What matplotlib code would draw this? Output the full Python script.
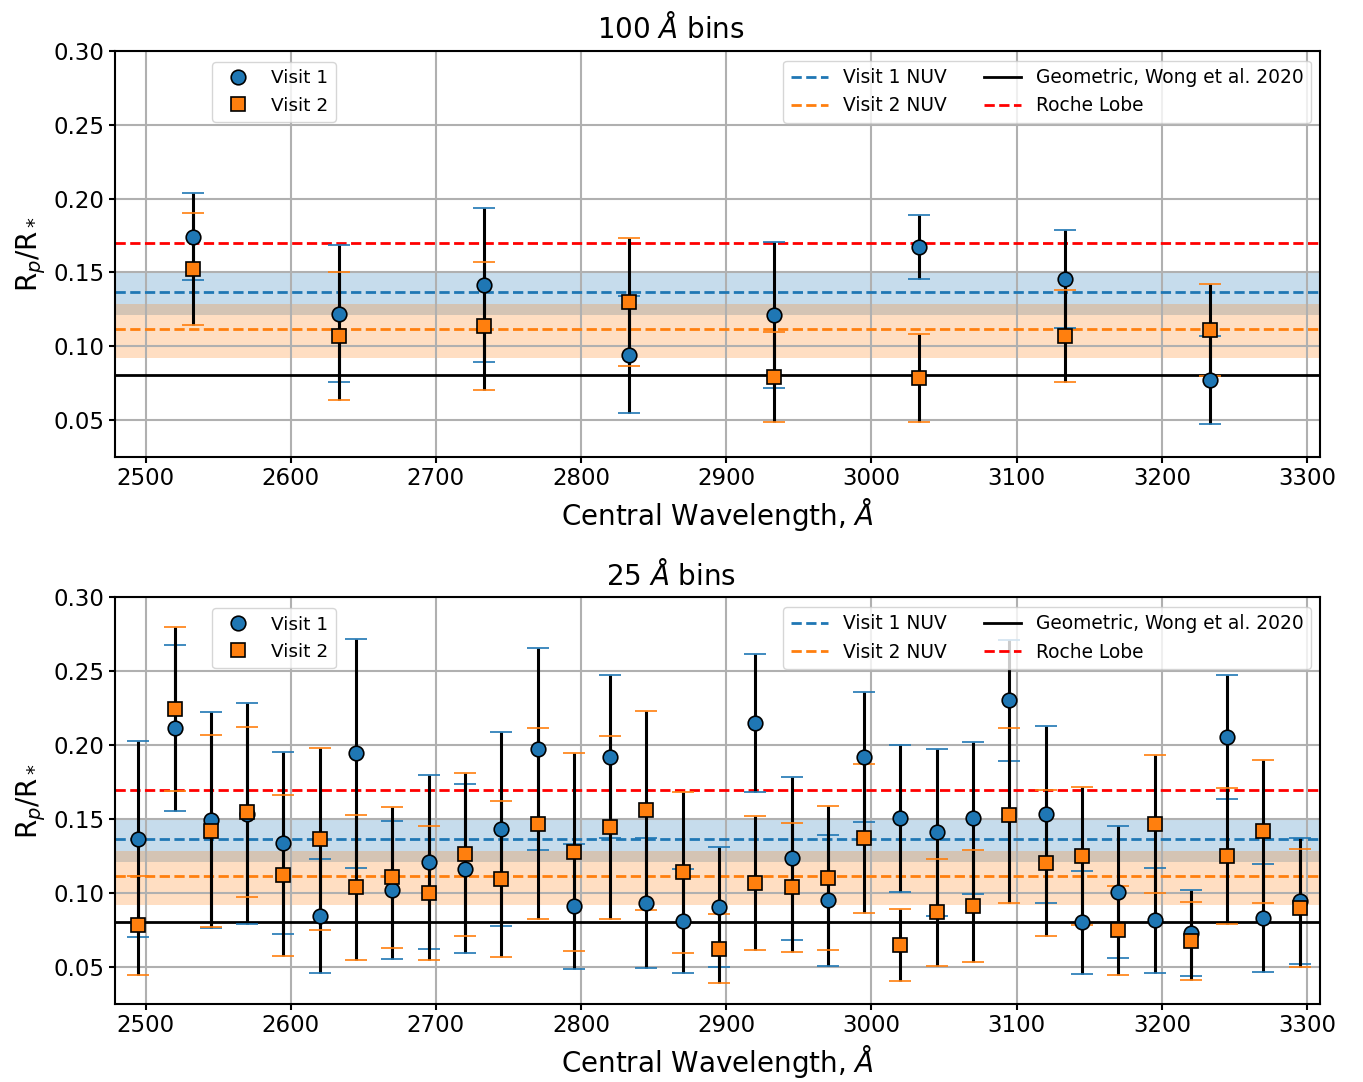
import numpy as np
import matplotlib
matplotlib.use('Agg')
import matplotlib.pyplot as plt

# 100 A bins
wl_100 = [2533, 2633, 2733, 2833, 2933, 3033, 3133, 3233]
v1_100 = [0.174, 0.1218, 0.1414, 0.0942, 0.1209, 0.167, 0.1457, 0.077]
v1_100_err = [0.0294, 0.0464, 0.0524, 0.0394, 0.0496, 0.0217, 0.0332, 0.0299]
v2_100 = [0.152, 0.1068, 0.1138, 0.1299, 0.0792, 0.0786, 0.1071, 0.1107]
v2_100_err = [0.038, 0.0431, 0.0435, 0.0434, 0.0306, 0.0298, 0.0312, 0.0311]

# 25 A bins
wl_25 = [2495, 2520, 2545, 2570, 2595, 2620, 2645, 2670, 2695, 2720, 2745,
         2770, 2795, 2820, 2845, 2870, 2895, 2920, 2945, 2970, 2995, 3020,
         3045, 3070, 3095, 3120, 3145, 3170, 3195, 3220, 3245, 3270, 3295]
v1_25 = [0.1367, 0.2114, 0.1493, 0.1537, 0.134, 0.0844, 0.1945, 0.102, 0.1212, 0.1166, 0.1432,
         0.1976, 0.0911, 0.1922, 0.0932, 0.0811, 0.0908, 0.2152, 0.1235, 0.0951, 0.1922, 0.1505,
         0.141, 0.1507, 0.2303, 0.1532, 0.0801, 0.1009, 0.0815, 0.0729, 0.2057, 0.0831, 0.0946]
v1_25_err = [0.0662, 0.0562, 0.0731, 0.0749, 0.0615, 0.0383, 0.0774, 0.0464, 0.0589, 0.0572, 0.0658,
             0.0682, 0.0422, 0.0553, 0.0442, 0.0352, 0.0405, 0.0467, 0.055, 0.0442, 0.0439, 0.0498,
             0.0564, 0.0514, 0.0408, 0.0598, 0.0347, 0.0446, 0.0356, 0.029, 0.0419, 0.0368, 0.0424]
v2_25 = [0.0783, 0.2247, 0.1419, 0.155, 0.1119, 0.1365, 0.1038, 0.1107, 0.1001, 0.1262, 0.1095,
         0.147, 0.1279, 0.1444, 0.1559, 0.1141, 0.0625, 0.1069, 0.104, 0.1104, 0.137, 0.065,
         0.0869, 0.0915, 0.1525, 0.1205, 0.1252, 0.0747, 0.1469, 0.0678, 0.1252, 0.1418, 0.0899]
v2_25_err = [0.0335, 0.0555, 0.065, 0.0575, 0.0545, 0.0613, 0.049, 0.0476, 0.0454, 0.055, 0.0528,
             0.0643, 0.067, 0.0619, 0.0673, 0.0545, 0.0233, 0.0452, 0.0436, 0.0486, 0.0505, 0.0243,
             0.0359, 0.0379, 0.0592, 0.0493, 0.0465, 0.0301, 0.0467, 0.0264, 0.0459, 0.0483, 0.0396]

# white-light (NUV) radii: value, upper error, lower error
nuv_v1 = [0.1367, 0.0133, 0.0155]
nuv_v2 = [0.1115, 0.0169, 0.0199]
geometric = 0.0801
roche = 0.1697


def plot_panel(ax, wl, v1, e1, v2, e2, title):
    ax.axhspan(nuv_v1[0] - nuv_v1[2], nuv_v1[0] + nuv_v1[1], color='C0', alpha=0.25, lw=0)
    ax.axhspan(nuv_v2[0] - nuv_v2[2], nuv_v2[0] + nuv_v2[1], color='C1', alpha=0.25, lw=0)
    ax.axhline(nuv_v1[0], color='C0', ls='--', lw=2, label='Visit 1 NUV')
    ax.axhline(nuv_v2[0], color='C1', ls='--', lw=2, label='Visit 2 NUV')
    ax.axhline(geometric, color='k', lw=2, label='Geometric, Wong et al. 2020')
    ax.axhline(roche, color='r', ls='--', lw=2, label='Roche Lobe')
    lines_legend = ax.get_legend_handles_labels()

    pts = []
    for y, e, col, mk, lab in [(v1, e1, 'C0', 'o', 'Visit 1'), (v2, e2, 'C1', 's', 'Visit 2')]:
        eb = ax.errorbar(wl, y, yerr=e, fmt=mk, color=col, mec='k', mew=1.2, ms=10.5,
                         ecolor='k', elinewidth=2.2, capsize=8, capthick=1.5)
        for cap in eb[1]:
            cap.set_markeredgecolor(col)
        h, = ax.plot([], [], mk, color=col, mec='k', mew=1.2, ms=10.5, label=lab)
        pts.append(h)

    leg1 = ax.legend(handles=pts, loc='upper left', bbox_to_anchor=(0.0805, 0.973),
                     borderaxespad=0, fontsize=13.3)
    ax.add_artist(leg1)
    ax.legend(lines_legend[0], lines_legend[1], ncol=2, loc='upper right',
              bbox_to_anchor=(0.9925, 0.976), borderaxespad=0, fontsize=13.4)

    ax.set_xlim(2479, 3309)
    ax.set_ylim(0.025, 0.30)
    ax.set_yticks([0.05, 0.10, 0.15, 0.20, 0.25, 0.30])
    ax.grid(True, color='#b0b0b0', lw=1.5)
    ax.tick_params(labelsize=16.5, width=1.5, length=4)
    for s in ax.spines.values():
        s.set_linewidth(1.5)
    ax.set_xlabel(r'Central Wavelength, $\AA$', fontsize=20)
    ax.set_ylabel(r'R$_p$/R$_*$', fontsize=20)
    ax.set_title(title, fontsize=20, pad=9, x=0.4614)


fig = plt.figure(figsize=(13.63, 10.82), dpi=100)
ax1 = fig.add_axes([0.0844, 0.5779, 0.8841, 0.375])
ax2 = fig.add_axes([0.0844, 0.0721, 0.8841, 0.3759])

plot_panel(ax1, wl_100, v1_100, v1_100_err, v2_100, v2_100_err, r'100 $\AA$ bins')
plot_panel(ax2, wl_25, v1_25, v1_25_err, v2_25, v2_25_err, r'25 $\AA$ bins')

fig.savefig('out.png', dpi=100)
